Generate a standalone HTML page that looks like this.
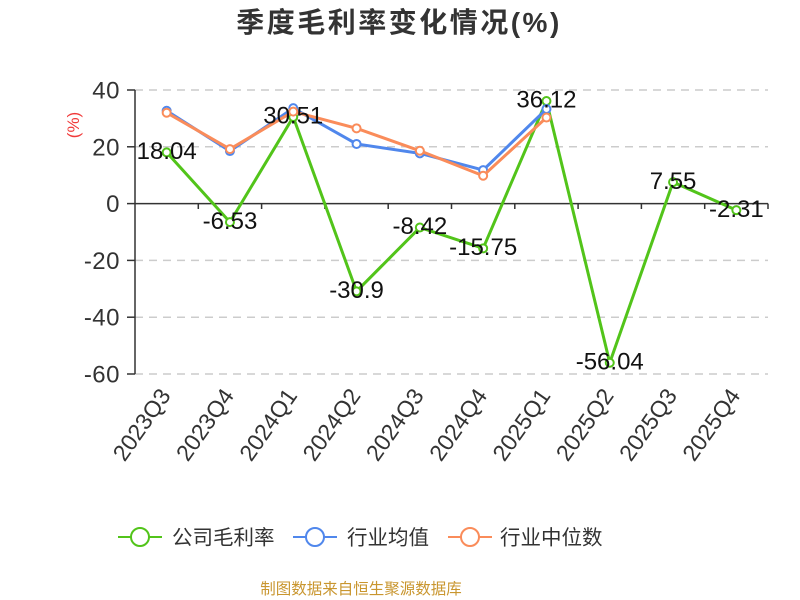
<!DOCTYPE html>
<html>
<head>
<meta charset="utf-8">
<style>
  html,body{margin:0;padding:0;background:#fff;}
  svg{display:block;}
  text{font-family:"Liberation Sans","Noto Sans CJK SC",sans-serif;}
</style>
</head>
<body>
<svg width="800" height="600" viewBox="0 0 800 600" xmlns="http://www.w3.org/2000/svg">
  <rect width="800" height="600" fill="#fff"/>
  <!-- Title -->
  <text x="399" y="32" text-anchor="middle" font-size="28" font-weight="bold" fill="#333" letter-spacing="2.5">季度毛利率变化情况(%)</text>

  <!-- y unit -->
  <text transform="translate(79,125) rotate(-90)" text-anchor="middle" font-size="17" fill="#f03a3a">(%)</text>

  <!-- gridlines -->
  <g stroke="#ccc" stroke-width="1.5" stroke-dasharray="8,6">
    <line x1="135" y1="90" x2="768" y2="90"/>
    <line x1="135" y1="146.8" x2="768" y2="146.8"/>
    <line x1="135" y1="260.4" x2="768" y2="260.4"/>
    <line x1="135" y1="317.2" x2="768" y2="317.2"/>
    <line x1="135" y1="374" x2="768" y2="374"/>
  </g>

  <!-- axes -->
  <g stroke="#333" stroke-width="1.5">
    <line x1="135" y1="90" x2="135" y2="374"/>
    <line x1="127" y1="90" x2="135" y2="90"/>
    <line x1="127" y1="146.8" x2="135" y2="146.8"/>
    <line x1="127" y1="203.6" x2="135" y2="203.6"/>
    <line x1="127" y1="260.4" x2="135" y2="260.4"/>
    <line x1="127" y1="317.2" x2="135" y2="317.2"/>
    <line x1="127" y1="374" x2="135" y2="374"/>
    <line x1="135" y1="203.6" x2="768" y2="203.6"/>
    <line x1="198.3" y1="203.6" x2="198.3" y2="209"/>
    <line x1="261.6" y1="203.6" x2="261.6" y2="209"/>
    <line x1="324.9" y1="203.6" x2="324.9" y2="209"/>
    <line x1="388.2" y1="203.6" x2="388.2" y2="209"/>
    <line x1="451.5" y1="203.6" x2="451.5" y2="209"/>
    <line x1="514.8" y1="203.6" x2="514.8" y2="209"/>
    <line x1="578.1" y1="203.6" x2="578.1" y2="209"/>
    <line x1="641.4" y1="203.6" x2="641.4" y2="209"/>
    <line x1="704.7" y1="203.6" x2="704.7" y2="209"/>
    <line x1="768" y1="203.6" x2="768" y2="209"/>
  </g>

  <!-- y tick labels -->
  <g font-size="24" fill="#333" text-anchor="end" letter-spacing="0.5">
    <text x="120" y="98.5">40</text>
    <text x="120" y="155.3">20</text>
    <text x="120" y="212.1">0</text>
    <text x="120" y="268.9">-20</text>
    <text x="120" y="325.7">-40</text>
    <text x="120" y="382.5">-60</text>
  </g>

  <!-- x labels -->
  <g font-size="23" fill="#333" text-anchor="end" dominant-baseline="central">
    <text transform="translate(165,391) rotate(-55)">2023Q3</text>
    <text transform="translate(228.3,391) rotate(-55)">2023Q4</text>
    <text transform="translate(291.6,391) rotate(-55)">2024Q1</text>
    <text transform="translate(354.9,391) rotate(-55)">2024Q2</text>
    <text transform="translate(418.2,391) rotate(-55)">2024Q3</text>
    <text transform="translate(481.5,391) rotate(-55)">2024Q4</text>
    <text transform="translate(544.8,391) rotate(-55)">2025Q1</text>
    <text transform="translate(608.1,391) rotate(-55)">2025Q2</text>
    <text transform="translate(671.4,391) rotate(-55)">2025Q3</text>
    <text transform="translate(734.7,391) rotate(-55)">2025Q4</text>
  </g>

  <!-- company series -->
  <polyline fill="none" stroke="#52c41a" stroke-width="3" stroke-linejoin="round"
    points="166.65,152.37 229.95,222.15 293.25,116.95 356.55,291.36 419.85,227.51 483.15,248.33 546.45,101.02 609.75,362.75 673.05,182.16 736.35,210.16"/>
  <g fill="#fff" stroke="#52c41a" stroke-width="2">
    <circle cx="166.65" cy="152.37" r="4"/>
    <circle cx="229.95" cy="222.15" r="4"/>
    <circle cx="293.25" cy="116.95" r="4"/>
    <circle cx="356.55" cy="291.36" r="4"/>
    <circle cx="419.85" cy="227.51" r="4"/>
    <circle cx="483.15" cy="248.33" r="4"/>
    <circle cx="546.45" cy="101.02" r="4"/>
    <circle cx="609.75" cy="362.75" r="4"/>
    <circle cx="673.05" cy="182.16" r="4"/>
    <circle cx="736.35" cy="210.16" r="4"/>
  </g>

  <!-- industry mean -->
  <polyline fill="none" stroke="#5087ec" stroke-width="3" stroke-linejoin="round"
    points="166.65,110.73 229.95,151.06 293.25,108.18 356.55,143.96 419.85,153.33 483.15,170.09 546.45,109.03"/>
  <g fill="#fff" stroke="#5087ec" stroke-width="2">
    <circle cx="166.65" cy="110.73" r="4"/>
    <circle cx="229.95" cy="151.06" r="4"/>
    <circle cx="293.25" cy="108.18" r="4"/>
    <circle cx="356.55" cy="143.96" r="4"/>
    <circle cx="419.85" cy="153.33" r="4"/>
    <circle cx="483.15" cy="170.09" r="4"/>
    <circle cx="546.45" cy="109.03" r="4"/>
  </g>

  <!-- industry median -->
  <polyline fill="none" stroke="#fa8c5a" stroke-width="3" stroke-linejoin="round"
    points="166.65,112.72 229.95,149.07 293.25,111.58 356.55,128.34 419.85,150.78 483.15,175.77 546.45,117.55"/>
  <g fill="#fff" stroke="#fa8c5a" stroke-width="2">
    <circle cx="166.65" cy="112.72" r="4"/>
    <circle cx="229.95" cy="149.07" r="4"/>
    <circle cx="293.25" cy="111.58" r="4"/>
    <circle cx="356.55" cy="128.34" r="4"/>
    <circle cx="419.85" cy="150.78" r="4"/>
    <circle cx="483.15" cy="175.77" r="4"/>
    <circle cx="546.45" cy="117.55" r="4"/>
  </g>

  <!-- data labels -->
  <g font-size="24" fill="#111" text-anchor="middle">
    <text x="166.65" y="159">18.04</text>
    <text x="229.95" y="228.8">-6.53</text>
    <text x="293.25" y="123.6">30.51</text>
    <text x="356.55" y="298">-30.9</text>
    <text x="419.85" y="234.1">-8.42</text>
    <text x="483.15" y="254.9">-15.75</text>
    <text x="546.45" y="107.6">36.12</text>
    <text x="609.75" y="369.3">-56.04</text>
    <text x="673.05" y="188.8">7.55</text>
    <text x="736.35" y="216.8">-2.31</text>
  </g>

  <!-- legend -->
  <g stroke-width="2" fill="#fff">
    <line x1="118" y1="537" x2="162" y2="537" stroke="#52c41a"/>
    <circle cx="140" cy="537" r="9" stroke="#52c41a"/>
    <line x1="293" y1="537" x2="337" y2="537" stroke="#5087ec"/>
    <circle cx="315" cy="537" r="9" stroke="#5087ec"/>
    <line x1="448" y1="537" x2="492" y2="537" stroke="#fa8c5a"/>
    <circle cx="470" cy="537" r="9" stroke="#fa8c5a"/>
  </g>
  <g font-size="20.5" fill="#333">
    <text x="172" y="544.5">公司毛利率</text>
    <text x="347" y="544.5">行业均值</text>
    <text x="500" y="544.5">行业中位数</text>
  </g>

  <!-- source -->
  <text x="361" y="594" text-anchor="middle" font-size="15.5" fill="#c9962f">制图数据来自恒生聚源数据库</text>
</svg>
</body>
</html>
